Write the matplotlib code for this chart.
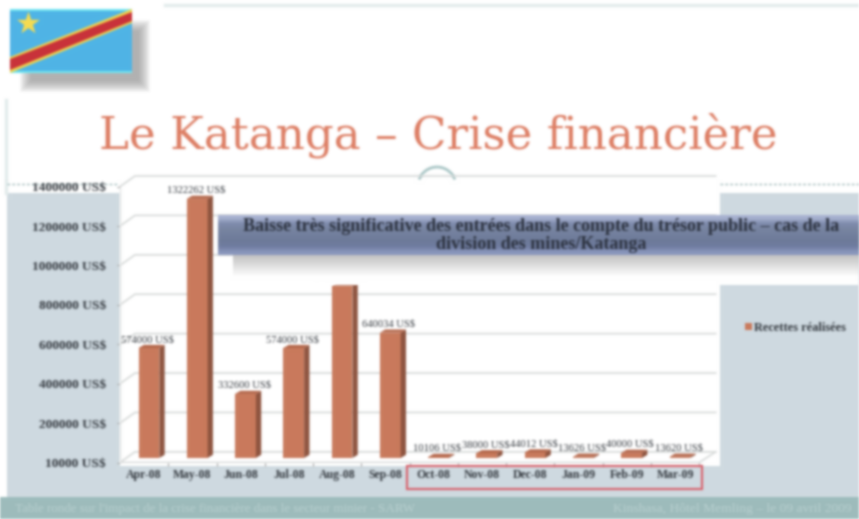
import numpy as np
import matplotlib
matplotlib.use("Agg")
import matplotlib.pyplot as plt
from matplotlib.patches import Rectangle, Polygon, Arc

plt.rcParams.update({"font.family": ["Liberation Serif", "DejaVu Serif"]})

# --- data ---
months = ["Apr-08", "May-08", "Jun-08", "Jul-08", "Aug-08", "Sep-08",
          "Oct-08", "Nov-08", "Dec-08", "Jan-09", "Feb-09", "Mar-09"]
recettes = [558000, 1315000, 325000, 558000, 875000, 636000,
            5000, 24000, 28000, 6000, 26000, 6000]
bar_labels = ["574000 US$", "1322262 US$", "332600 US$", "574000 US$", "875000 US$", "640034 US$",
              "10106 US$", "38000 US$", "44012 US$", "13626 US$", "40000 US$", "13620 US$"]
y_ticks = [0, 200000, 400000, 600000, 800000, 1000000, 1200000, 1400000]
y_labels = ["10000 US$", "200000 US$", "400000 US$", "600000 US$",
            "800000 US$", "1000000 US$", "1200000 US$", "1400000 US$"]

W, H = 859, 519
TXT = "#33383e"
FRONT, SIDE, TOP = "#c97a5c", "#8e543f", "#b4674b"


def blur(sigma):
    # soft look of the upscaled slide, text stays real text
    r = int(3 * sigma) + 1
    k = np.exp(-np.arange(-r, r + 1) ** 2 / (2 * sigma ** 2))
    k /= k.sum()

    def f(img, dpi):
        a = np.pad(img, ((r, r), (r, r), (0, 0)))
        a[..., :3] *= a[..., 3:]
        a = np.apply_along_axis(np.convolve, 0, a, k, mode="same")
        a = np.apply_along_axis(np.convolve, 1, a, k, mode="same")
        a[..., :3] /= np.maximum(a[..., 3:], 1e-4)
        return np.clip(a, 0, 1), -r, -r
    return f


def pixel_axes(zorder):
    a = fig.add_axes([0, 0, 1, 1], zorder=zorder)
    a.set_xlim(0, W)
    a.set_ylim(H, 0)
    a.axis("off")
    a.patch.set_visible(False)
    return a


fig = plt.figure(figsize=(W / 100, H / 100), dpi=100, facecolor="white")

# --- slide background ---
bg = pixel_axes(0)
bg.add_patch(Rectangle((7, 193), W - 7, 304, color="#cfdae0", lw=0))
bg.add_patch(Rectangle((0, 497), W, 22, color="#9dbcbc", lw=0))
bg.plot([165, W], [4.5, 4.5], color="#e3ecec", lw=2.5)
bg.plot([6, 6], [100, 193], color="#e3ecec", lw=2.5)
bg.plot([7, 118], [184, 184], color="#9fb9b9", lw=1, ls=(0, (2, 1.5)))
bg.plot([720, W], [184, 184], color="#9fb9b9", lw=1, ls=(0, (2, 1.5)))
bg.add_patch(Rectangle((120, 175), 600, 291, color="white", lw=0))
bg.add_patch(Arc((437, 186), 38, 38, theta1=200, theta2=340, color="#a9c6c6", lw=2))
bg.text(438, 135, "Le Katanga – Crise financière", ha="center", va="center",
        fontsize=32.5, color="#dd7d63", family="DejaVu Serif")

# flag with its shadow
for i in range(12):
    bg.add_patch(Rectangle((20 + i, 20 + i), 130 - 2 * i, 72 - 2 * i, color="#777777", alpha=0.07, lw=0))
bg.add_patch(Rectangle((10, 9), 122, 64, color="#4fb4e6", lw=0))
bg.add_patch(Rectangle((10, 9), 122, 2, color="#6fe6f2", lw=0))
bg.add_patch(Rectangle((10, 71), 122, 2, color="#6fe6f2", lw=0))
bg.add_patch(Polygon([[10, 57], [132, 9], [132, 23], [10, 73]], color="#f2d64b", lw=0))
bg.add_patch(Polygon([[10, 59], [132, 12], [132, 21], [10, 70]], color="#c8323a", lw=0))
bg.scatter([28], [23], marker="*", s=300, color="#f6dc50", lw=0)

# --- chart ---
ax = fig.add_axes([120 / W, (H - 462.5) / H, 600 / W, 287.5 / H], zorder=1)
ax.patch.set_visible(False)
ax.set_xlim(-0.5, 11.93)
ax.set_ylim(0, 1459000)
for s in ax.spines.values():
    s.set_visible(False)

x = np.arange(len(months))
wall_dx, wall_dy = 0.31, 54000
for v in y_ticks:
    ax.plot([-0.5, -0.5 + wall_dx, 11.84], [v, v + wall_dy, v + wall_dy], color="#d6d9d8", lw=1.2, clip_on=False)
ax.plot([-0.5, 11.5, 11.84], [0, 0, wall_dy], color="#d6d9d8", lw=1.2)
ax.plot([-0.5, -0.5], [0, 1400000], color="#e6e8e8", lw=1, clip_on=False)

floor = 23000
bw, dx, dy = 0.43, 0.11, 16000
xb = x + 0.1
bars = ax.bar(xb, recettes, bw, bottom=floor, color=FRONT, zorder=3, label="Recettes réalisées")
for xi, v, lab in zip(xb, recettes, bar_labels):
    l, r, t = xi - bw / 2, xi + bw / 2, floor + v
    ax.add_patch(Polygon([[r, floor], [r + dx, floor + dy], [r + dx, t + dy], [r, t]], color=SIDE, lw=0, zorder=3))
    ax.add_patch(Polygon([[l, t], [l + dx, t + dy], [r + dx, t + dy], [r, t]], color=TOP, lw=0, zorder=3))
    ax.annotate(lab, (xi - 0.03, t), xytext=(0, 4), textcoords="offset pixels", ha="center", va="bottom",
                fontsize=7.6, color=TXT, zorder=4)

ax.set_yticks(y_ticks, y_labels, fontsize=9.6, fontweight="bold", color=TXT)
ax.tick_params(axis="y", length=2, width=0.8, color="#9a9a9a", pad=8)
ax.set_xticks(x, months, fontsize=8.5, fontweight="bold", color=TXT)
ax.set_xticks(x + 0.5, minor=True)
ax.tick_params(axis="x", which="major", length=0, pad=5)
ax.tick_params(axis="x", which="minor", length=2, width=0.8, color="#9a9a9a")

ax.legend(handles=[bars], loc="center left", bbox_to_anchor=(739 / W, (H - 328) / H),
          bbox_transform=fig.transFigure, frameon=False, handlelength=0.55, handleheight=0.55,
          handletextpad=0.2, borderpad=0, prop={"size": 8.9, "weight": "bold"}, labelcolor=TXT)

# --- overlay: callout, red box, footer ---
top = pixel_axes(2)
top.add_patch(Rectangle((233, 255), W - 233, 30, color="white", lw=0, zorder=1))
shadow = np.linspace(0.76, 1.0, 24)[:, None]
top.imshow(shadow, extent=(233, W, 277, 255), cmap="gray", vmin=0, vmax=1, aspect="auto", zorder=1.5)
band = np.array([[0.66, 0.70, 0.82], [0.50, 0.55, 0.68], [0.47, 0.52, 0.63], [0.45, 0.50, 0.62],
                 [0.43, 0.48, 0.60], [0.44, 0.49, 0.63], [0.54, 0.59, 0.74]])[:, None, :]
top.imshow(band, extent=(218, W, 255, 215), aspect="auto", interpolation="bilinear", zorder=2)
top.set_xlim(0, W)
top.set_ylim(H, 0)
top.text(541, 235.5, "Baisse très significative des entrées dans le compte du trésor public – cas de la\n"
         "division des mines/Katanga", ha="center", va="center", fontsize=13, fontweight="bold",
         color="#2d3340", linespacing=1.08, zorder=3)
top.add_patch(Rectangle((407, 466), 295, 23, fc="none", ec="#d9606a", lw=1.5, zorder=3))
top.text(15, 509, "Table ronde sur l'impact de la crise financière dans le secteur minier - SARW",
         va="center", fontsize=9.4, color="#b9d0d0", zorder=3)
top.text(852, 509, "Kinshasa, Hôtel Memling – le 09 avril 2009", ha="right", va="center",
         fontsize=9.7, color="#b9d0d0", zorder=3)

for a in (bg, ax, top):
    a.set_agg_filter(blur(1.2))

fig.savefig("out.png", dpi=100)
